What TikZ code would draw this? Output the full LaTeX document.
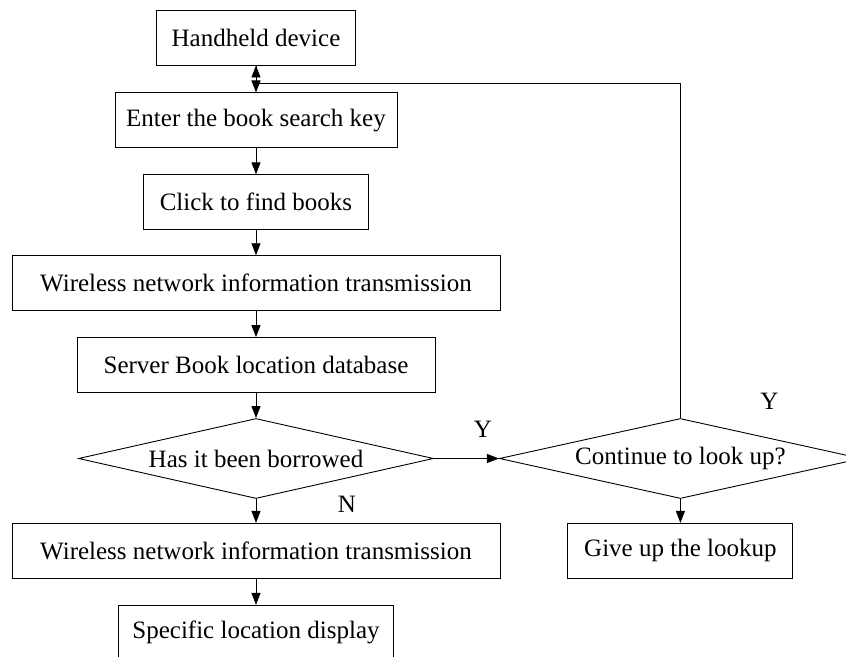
\documentclass[tikz,border=0pt]{standalone}
\usepackage{fontspec}
\setmainfont{Liberation Serif}
\usetikzlibrary{positioning,shapes.geometric,arrows.meta}
\tikzset{stepbox/.style={rectangle,draw,inner sep=0pt,minimum height=55pt},
	 askbox/.style={diamond,draw,inner sep=0pt,aspect=4.5,minimum height=80pt},
	 flow/.style={-{Triangle[length=12pt,width=9pt]}},
	 node distance = 26pt
	 }

\begin{document}
\begin{tikzpicture}[x=1pt,y=1pt,line width=0.9pt,font=\fontsize{25}{30}\selectfont]
	\useasboundingbox (0,0) rectangle (846,-656);
	\node[stepbox,minimum width=199pt] (hand) at (256,-37.5) {Handheld device};
	\node[stepbox,minimum width=282pt] (enter) [below=27pt of hand] {Enter the book search key};
	\node[stepbox,minimum width=225pt] (click) [below= of enter] {Click to find books};
	\node[stepbox,minimum width=488pt] (wl1) [below=25pt of click] {Wireless network information transmission};
	\node[stepbox,minimum width=358pt] (serv) [below= of wl1] {Server Book location database};
	\node[askbox,minimum width=355pt] (ask1) [below=25pt of serv] {Has it been borrowed};
	\node[askbox,minimum width=362pt] (ask2) [right=65pt of ask1] {Continue to look up?};
	\node[stepbox,minimum width=488pt] (wl2) [below=24pt of ask1] {Wireless network information transmission};
	\node[stepbox,minimum width=275pt] (spec) [below= of wl2] {Specific location display};
	\node[stepbox,minimum width=225pt] (give) [below=24pt of ask2] {Give up the lookup};
	\node (y1) at ([xshift=49pt,yshift=29pt]ask1.east) {Y};
	\node (n1) at ([xshift=91pt,yshift=-5pt]ask1.south) {N};
	\node (y2) at ([xshift=89pt,yshift=17pt]ask2.north) {Y};
	\coordinate (jn) at ([yshift=-18pt]hand.south);
	\draw[flow] (hand) to (enter);
	\draw[flow] (enter) to (click);
	\draw[flow] (click) to (wl1);
	\draw[flow] (wl1) to (serv);
	\draw[flow] (serv) to (ask1);
	\draw[flow] (ask1) to (ask2);
	\draw[flow] (ask1) to (wl2);
	\draw[flow] (wl2) to (spec);
	\draw[flow] (ask2) to (give);
	\draw[flow] (ask2.north) |- (jn) to (hand.south);
\end{tikzpicture}
\end{document}
